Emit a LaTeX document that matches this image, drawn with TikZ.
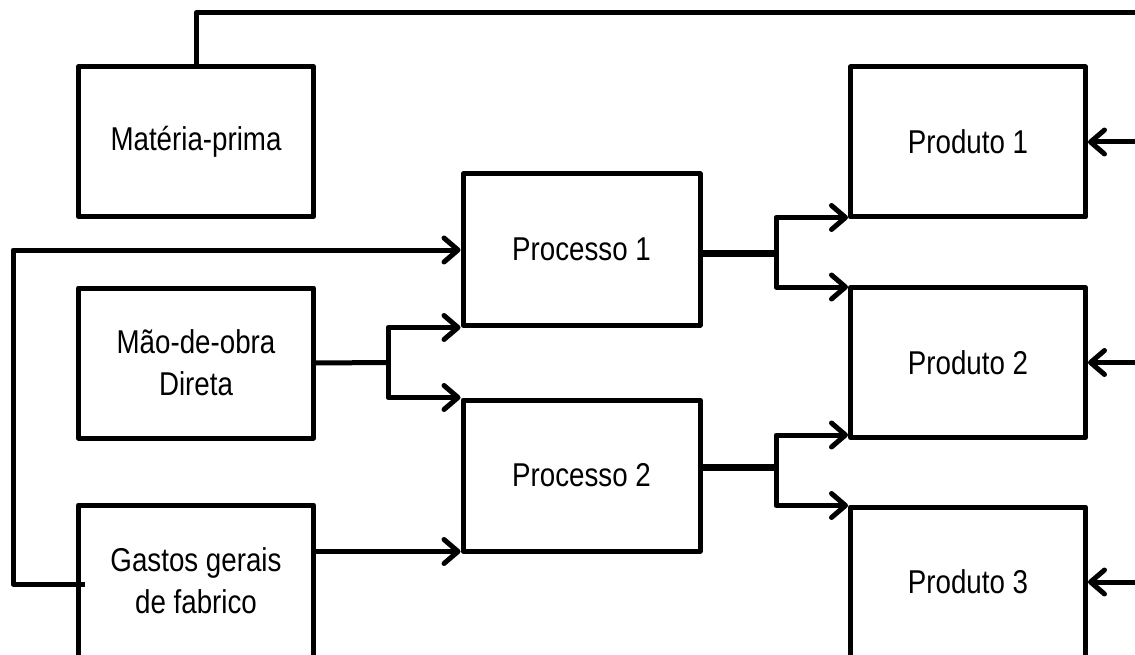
\documentclass[tikz,border=0pt]{standalone}
\usepackage{fontspec}
\setmainfont[FakeStretch=0.84]{Liberation Sans}
\usetikzlibrary{arrows.meta}
\begin{document}
\begin{tikzpicture}[x=1pt,y=-1pt,
  line join=round,
  box/.style={draw, line width=5pt, inner sep=0pt, align=center,
    minimum width=235pt, minimum height=150pt,
    font=\fontsize{33}{42}\selectfont},
  link/.style={line width=5pt},
  trunk/.style={line width=7pt},
  arr/.style={line width=5pt, -{Straight Barb[length=14pt,width=24pt,round]}}]
  \useasboundingbox (0,0) rectangle (1135,655);

  % inputs
  \node[box] (mat)  at (196,141.5) {Matéria-prima};
  \node[box] (mao)  at (196,363)   {Mão-de-obra\\Direta};
  \node[box, minimum height=152pt] (gas) at (196,581) {Gastos gerais\\de fabrico};

  % processes
  \node[box, minimum width=237pt, minimum height=151pt] (p1) at (581.5,249.5) {Processo 1};
  \node[box, minimum width=237pt, minimum height=151pt] (p2) at (581.5,475.5) {Processo 2};

  % products
  \node[box] (d1) at (968,142)   {Produto 1};
  \node[box] (d2) at (968,362.5) {Produto 2};
  \node[box] (d3) at (968,582)   {Produto 3};

  % raw material routed over the top to every product
  \coordinate (tr) at (1137,13);
  \coordinate (rb) at (1137,582);
  \draw[link] (mat.north) |- (tr) -- (rb);
  \draw[arr] (tr |- d1.east) -- (d1.east);
  \draw[arr] (tr |- d2.east) -- (d2.east);
  \draw[arr] (rb) -- (d3.east);

  % labour split to both processes
  \coordinate (s1) at (388,362.5);
  \draw[link] (mao.east) -- (s1);
  \draw[arr] (s1) |- (p1.south west);
  \draw[arr] (s1) |- (p2.north west);

  % overheads to both processes
  \coordinate (q2) at ([yshift=2pt]p2.south west);
  \draw[arr] (gas.east |- q2) -- (q2);
  \coordinate (gin) at (85,584);
  \coordinate (lft) at (13,250);
  \draw[arr] (gin) -| (lft) -- (lft -| p1.west);

  % process 1 to products 1 and 2
  \coordinate (s2) at (776,253);
  \draw[trunk] (p1.east |- s2) -- (s2);
  \draw[arr] (s2) |- ([yshift=2pt]d1.south west);
  \draw[arr] (s2) |- ([yshift=-2pt]d2.north west);

  % process 2 to products 2 and 3
  \coordinate (s3) at (776,467);
  \draw[trunk] (p2.east |- s3) -- (s3);
  \draw[arr] (s3) |- ([yshift=5pt]d2.south west);
  \draw[arr] (s3) |- ([yshift=-1pt]d3.north west);
\end{tikzpicture}
\end{document}
